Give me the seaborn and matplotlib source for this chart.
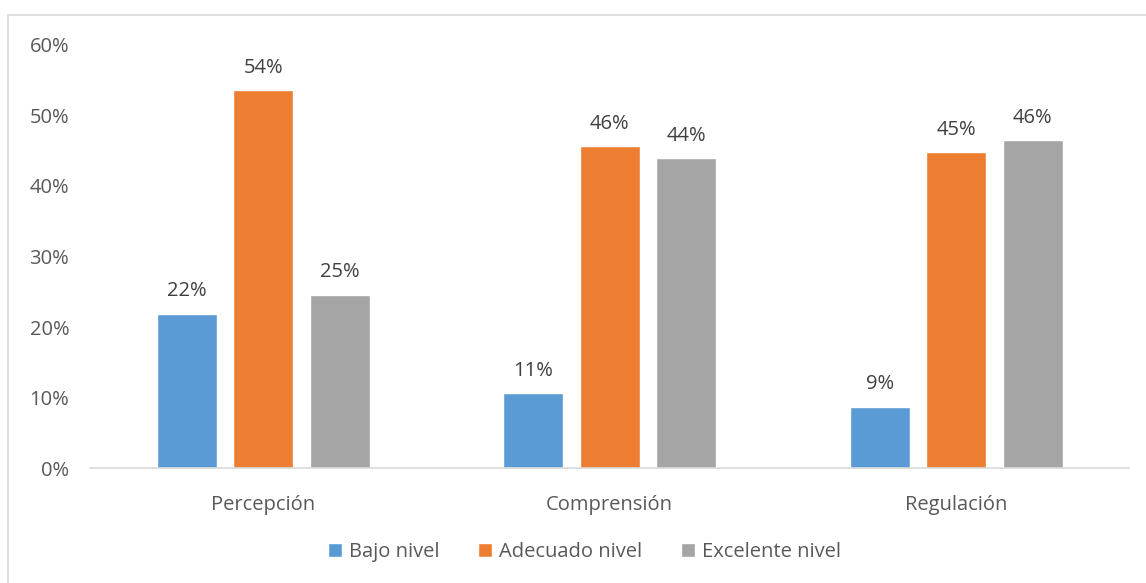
import pandas as pd
import matplotlib.pyplot as plt
import seaborn as sns
from matplotlib.patches import Rectangle

# Chart data (percent values)
categories = ['Percepción', 'Comprensión', 'Regulación']
niveles = ['Bajo nivel', 'Adecuado nivel', 'Excelente nivel']
bajo = [21.9, 10.6, 8.7]
adecuado = [53.6, 45.6, 44.8]
excelente = [24.6, 43.9, 46.5]
y_ticks = [0, 10, 20, 30, 40, 50, 60]

colors = ['#5B9BD5', '#ED7D31', '#A5A5A5']

df = pd.DataFrame({
    'categoria': categories * 3,
    'nivel': [niveles[0]] * 3 + [niveles[1]] * 3 + [niveles[2]] * 3,
    'valor': bajo + adecuado + excelente,
})

sns.set_style("white")
plt.rcParams['font.family'] = ['Open Sans', 'DejaVu Sans']

fig = plt.figure(figsize=(11.46, 5.83), dpi=100)
ax = fig.add_axes([0.0785, 0.197, 0.907, 0.726])

sns.barplot(data=df, x='categoria', y='valor', hue='nivel',
            order=categories, hue_order=niveles, palette=colors,
            width=0.662, gap=0.216, saturation=1, errorbar=None, ax=ax)

# Value labels above bars
for container in ax.containers:
    ax.bar_label(container, fmt='%.0f%%', padding=9, fontsize=14.5, color='#404040')

ax.set_ylim(0, 60)
ax.set_yticks(y_ticks)
ax.set_yticklabels([f'{t}%' for t in y_ticks], fontsize=14.5, color='#595959')
ax.tick_params(axis='y', length=0, pad=15)
ax.tick_params(axis='x', length=0, pad=19, labelsize=14.5, labelcolor='#595959')
ax.set_xlabel('')
ax.set_ylabel('')

for side in ['top', 'right', 'left']:
    ax.spines[side].set_visible(False)
ax.spines['bottom'].set_color('#D9D9D9')
ax.spines['bottom'].set_linewidth(1.2)

leg = ax.legend(loc='center', bbox_to_anchor=(0.51, 0.053),
                bbox_transform=fig.transFigure, ncol=3, frameon=False,
                fontsize=14.5, handlelength=0.7, handleheight=0.7,
                handletextpad=0.35, columnspacing=1.9)
for text in leg.get_texts():
    text.set_color('#595959')

# Outer chart border
fig.patches.append(Rectangle((8 / 1146, -0.05), 1.2, 1 - 15 / 583 + 0.05,
                             transform=fig.transFigure, fill=False,
                             edgecolor='#D9D9D9', linewidth=1.2))

fig.savefig('out.png', dpi=100)
